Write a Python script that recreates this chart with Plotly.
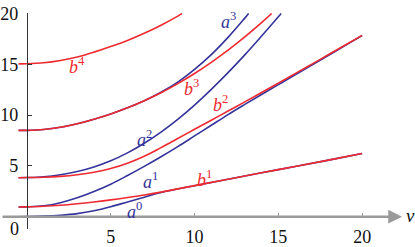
import plotly.graph_objects as go

# ---- data ----
nu_a0 = [-0.5, 0, 1, 2, 3, 4, 5, 6, 7, 8, 10, 12, 14, 16, 18, 20]
a0 = [0.0, 0.01, 0.05, 0.14, 0.3, 0.58, 0.98, 1.45, 1.92, 2.38, 3.05, 3.69, 4.32, 4.94, 5.57, 6.22]

nu_b1 = [-0.5, 0, 1, 2, 3, 4, 5, 6, 7, 8, 10, 12, 14, 16, 18, 20]
b1 = [0.96, 0.97, 1.02, 1.12, 1.27, 1.45, 1.65, 1.88, 2.13, 2.42, 3.06, 3.69, 4.32, 4.94, 5.57, 6.22]

nu_a1 = [-0.5, 0, 1, 2, 3, 4, 5, 6, 7, 8, 9, 10, 11, 12, 13, 14, 15, 16, 17, 18, 19, 20]
a1 = [0.96, 0.97, 1.07, 1.38, 1.86, 2.48, 3.2, 4.05, 4.95, 5.9, 6.9, 7.95, 9.0, 10.05, 11.05,
      12.03, 13.0, 13.96, 14.92, 15.89, 16.86, 17.84]

nu_b2 = [-0.5, 0, 1, 2, 3, 4, 5, 6, 7, 8, 9, 10, 11, 12, 13, 14, 15, 16, 17, 18, 19, 20]
b2 = [3.84, 3.85, 3.88, 3.97, 4.13, 4.38, 4.75, 5.27, 5.95, 6.8, 7.7, 8.6, 9.5, 10.4, 11.3,
      12.22, 13.15, 14.08, 15.02, 15.96, 16.9, 17.85]

nu_a2 = [-0.5, 0, 1, 2, 3, 4, 5, 6, 7, 8, 9, 10, 11, 12, 13, 14, 15, 15.17]
a2 = [3.84, 3.85, 3.93, 4.13, 4.45, 4.9, 5.5, 6.28, 7.23, 8.33, 9.58, 10.98, 12.53, 14.18,
      15.93, 17.78, 19.68, 20.0]

nu_a3 = [-0.5, 0, 1, 2, 3, 4, 5, 6, 7, 8, 9, 10, 11, 12, 13, 13.23]
a3 = [8.5, 8.5, 8.58, 8.8, 9.15, 9.6, 10.12, 10.72, 11.42, 12.25, 13.25, 14.5, 15.95, 17.65, 19.55, 20.0]

nu_b3 = [-0.5, 0, 1, 2, 3, 4, 5, 6, 7, 8, 9, 10, 11, 12, 13, 14, 14.6]
b3 = [8.5, 8.5, 8.58, 8.8, 9.15, 9.6, 10.12, 10.72, 11.42, 12.2, 13.1, 14.1, 15.2, 16.4, 17.7, 19.1, 20.0]

nu_b4 = [-0.5, 0, 1, 2, 3, 4, 5, 6, 7, 8, 9, 9.25]
b4 = [15.04, 15.05, 15.15, 15.38, 15.72, 16.2, 16.75, 17.35, 18.05, 18.85, 19.75, 20.0]

x_ticks = [5, 10, 15, 20]
y_ticks = [5, 10, 15, 20]

labels = [  # base letter, superscript, nu, value, colour key
    ("a", "0", 6.4, 0.65, "blue"),
    ("a", "1", 7.4, 3.6, "blue"),
    ("a", "2", 7.0, 7.7, "blue"),
    ("a", "3", 12.0, 19.3, "blue"),
    ("b", "1", 10.6, 3.75, "red"),
    ("b", "2", 11.55, 11.15, "red"),
    ("b", "3", 9.8, 12.7, "red"),
    ("b", "4", 3.0, 14.9, "red"),
]

BLUE = "#34349a"
RED = "#ee2a30"
GREY = "#9a9a9a"
FONT = "Liberation Serif, Times New Roman, Times, DejaVu Serif, serif"

fig = go.Figure()
blue_curves = [(nu_a0, a0), (nu_a1, a1), (nu_a2, a2), (nu_a3, a3)]
red_curves = [(nu_b1, b1), (nu_b2, b2), (nu_b3, b3), (nu_b4, b4)]
for xs, ys in blue_curves:
    fig.add_trace(go.Scatter(x=xs, y=ys, mode="lines", line=dict(color=BLUE, width=1.6, shape="spline"),
                             showlegend=False, hoverinfo="skip", cliponaxis=False))
for xs, ys in red_curves:
    fig.add_trace(go.Scatter(x=xs, y=ys, mode="lines", line=dict(color=RED, width=1.6, shape="spline"),
                             showlegend=False, hoverinfo="skip", cliponaxis=False))

W, H = 415, 247
px_x0, px_unit_x = 26.0, 16.8
px_y0, px_unit_y = 229.0, 11.2
xr = [-px_x0 / px_unit_x, (W - px_x0) / px_unit_x]
y_top_val = 20.05
y_top_px = px_y0 - y_top_val * px_unit_y
y_bot_px = 243.0
yr = [(px_y0 - y_bot_px) / px_unit_y, y_top_val]

fig.update_layout(
    width=W, height=H, margin=dict(l=0, r=0, t=0, b=0),
    paper_bgcolor="white", plot_bgcolor="white",
    xaxis=dict(range=xr, domain=[0, 1], anchor="free", position=(H - px_y0) / H,
               showgrid=False, zeroline=False, showline=False,
               tickmode="array", tickvals=x_ticks, ticks="inside", ticklen=4,
               tickcolor=GREY, tickwidth=1, ticklabelstandoff=7, ticklabeloverflow="allow",
               tickfont=dict(family=FONT, size=18, color="#111")),
    yaxis=dict(range=yr, domain=[(H - y_bot_px) / H, (H - y_top_px) / H],
               anchor="free", position=px_x0 / W,
               showgrid=False, zeroline=False, showline=True, linecolor="#333", linewidth=1,
               tickmode="array", tickvals=y_ticks, ticks="inside", ticklen=4,
               tickcolor="#333", tickwidth=1, ticklabelstandoff=5, ticklabeloverflow="allow",
               tickfont=dict(family=FONT, size=18, color="#111")),
)

# x axis line with arrow
fig.add_annotation(x=(402 - px_x0) / px_unit_x, y=0, ax=xr[0], ay=0, axref="x", ayref="y",
                   xref="x", yref="y", text="", showarrow=True, arrowhead=2, arrowsize=1.1,
                   arrowwidth=2.5, arrowcolor=GREY, standoff=0)
fig.add_annotation(x=(410 - px_x0) / px_unit_x, y=0.1, xref="x", yref="y", text="<i>ν</i>",
                   showarrow=False, font=dict(family=FONT, size=19, color="#111"))
fig.add_annotation(x=(14 - px_x0) / px_unit_x, y=(px_y0 - 243) / px_unit_y, xref="x", yref="y",
                   text="0", showarrow=False, font=dict(family=FONT, size=18, color="#111"))

for base, sup, lx, ly, ck in labels:
    fig.add_annotation(x=lx, y=ly, xref="x", yref="y", showarrow=False,
                       text=f"<i>{base}</i><sup>{sup}</sup>",
                       font=dict(family=FONT, size=18, color=BLUE if ck == "blue" else RED))

fig.write_html("out.html")
